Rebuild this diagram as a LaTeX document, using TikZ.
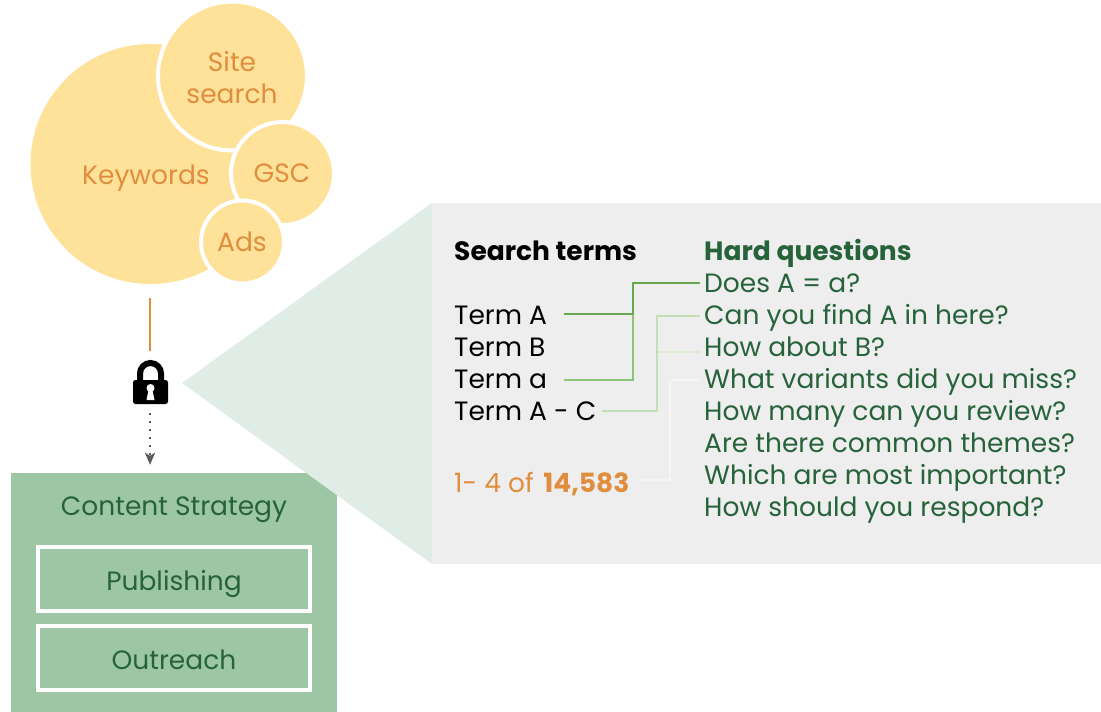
\documentclass[tikz,border=0pt]{standalone}
\usepackage{fontspec}
\setmainfont{Poppins}
\usetikzlibrary{arrows.meta}
\definecolor{bubblefill}{HTML}{FFE299}
\definecolor{bubbletext}{HTML}{E08E3E}
\definecolor{darkgreen}{HTML}{27633A}
\definecolor{boxgreen}{HTML}{9DC6A5}
\definecolor{wedgegreen}{HTML}{E0EDE6}
\definecolor{panelgrey}{HTML}{EEEEEE}
\definecolor{linkone}{HTML}{6AA84F}
\definecolor{linktwo}{HTML}{8CC47A}
\definecolor{linkthree}{HTML}{C2DFB5}
\definecolor{linkfour}{HTML}{DCEBD6}
\definecolor{linkfive}{HTML}{F5F5F5}
\tikzset{
    bubble/.style={circle,fill=bubblefill,draw=white,line width=4pt,inner sep=0pt},
    bubblelabel/.style={inner sep=0pt,text=bubbletext,font=\fontsize{26.5}{32}\selectfont,align=center},
    termtext/.style={inner sep=0pt,anchor=base west,font=\fontsize{26.5}{32}\selectfont},
    asktext/.style={termtext,text=darkgreen},
    stratbox/.style={rectangle,draw=white,line width=4pt,minimum width=272.6pt,minimum height=64pt,
        text=darkgreen,text height=23.4pt,text depth=0pt,inner sep=0pt,font=\fontsize{26.5}{32}\selectfont},
    linkline/.style={line width=2pt}
}
\begin{document}
\begin{tikzpicture}[x=1pt,y=-1pt]
    \useasboundingbox (0,0) rectangle (1101,712);
    % bubbles
    \node[bubble,draw=none,minimum size=240pt] (keywords) at (150.5,164) {};
    \node[bubble,minimum size=149pt] (site) at (232.5,76) {};
    \node[bubble,minimum size=103pt] (gsc) at (282.5,173.5) {};
    \node[bubble,minimum size=83pt] (ads) at (242.5,242) {};
    \node[bubblelabel,anchor=base] (keywordslabel) at (146,184) {Keywords};
    \node[bubblelabel] (sitelabel) at (232,78) {Site\\search};
    \node[bubblelabel,anchor=base] (gsclabel) at (282,182.5) {GSC};
    \node[bubblelabel,anchor=base] (adslabel) at (242,251) {Ads};

    % strategy box
    \node[fill=boxgreen,minimum width=326pt,minimum height=239pt,inner sep=0pt] (strategy) at (174,592.5) {};
    \node[inner sep=0pt,anchor=base,text=darkgreen,font=\fontsize{26.5}{32}\selectfont] (strategylabel) at (174,515) {Content Strategy};
    \node[stratbox] (publishing) at (174,579) {Publishing};
    \node[stratbox] (outreach) at (174,658) {Outreach};

    % wedge and panel
    \fill[wedgegreen] (182,383) -- (432,203) -- (432,564) -- cycle;
    \fill[panelgrey] (432,203) rectangle (1101,564);

    % lock
    \node[minimum width=36pt,minimum height=44pt,inner sep=0pt] (lock) at (150,382) {};
    \draw[line width=6pt] (140,381) -- (140,373.5) arc[start angle=180,end angle=360,radius=10.5] -- (161,381);
    \fill[black,rounded corners=2.5pt] (133,380) rectangle (168,404);
    \fill[white] (150.5,388) circle (4);
    \fill[white] (149,388) -- (152,388) -- (154.5,400) -- (146.5,400) -- cycle;

    \draw[bubbletext,line width=2pt] ([yshift=-12pt]keywords.south -| lock.north) -- ([yshift=9pt]lock.north);
    \draw[black!65,line width=2pt,dash pattern=on 2pt off 6pt,-{Stealth[inset=3pt,length=12pt,width=10pt]}]
        ([yshift=-9pt]lock.south) -- ([yshift=8pt]strategy.north -| lock.south);

    % search terms
    \node[termtext,font=\fontsize{26.5}{32}\selectfont\bfseries] (searchterms) at (454,260) {Search terms};
    \node[termtext] (terma) at (454,324) {Term A};
    \node[termtext] (termb) at (454,356) {Term B};
    \node[termtext] (termlow) at (454,388) {Term a};
    \node[termtext] (termac) at (454,420) {Term A - C};
    \node[termtext,text=bubbletext] (count) at (454,492) {1- 4 of\hspace{2.5pt} \textbf{14,583}};

    % questions
    \node[asktext,font=\fontsize{26.5}{32}\selectfont\bfseries] (hard) at (704,260) {Hard questions};
    \node[asktext] (ask1) at (704,292) {Does A = a?};
    \node[asktext] (ask2) at (704,324) {Can you find A in here?};
    \node[asktext] (ask3) at (704,356) {How about B?};
    \node[asktext] (ask4) at (704,388) {What variants did you miss?};
    \node[asktext] (ask5) at (704,420) {How many can you review?};
    \node[asktext] (ask6) at (704,452) {Are there common themes?};
    \node[asktext] (ask7) at (704,484) {Which are most important?};
    \node[asktext] (ask8) at (704,516) {How should you respond?};

    % links
    \coordinate (tafrom) at (564,314);
    \coordinate (tlfrom) at (564,380);
    \coordinate (tcfrom) at (602,411);
    \coordinate (cfrom) at (638,480);
    \coordinate (q1) at (700,283);
    \coordinate (q2) at (700,316);
    \coordinate (q3) at (700,352);
    \coordinate (q4) at (700,380);
    \draw[linkline,draw=linkfive] (cfrom) -- (670,480) -- (670,380) -- (q4);
    \draw[linkline,draw=linkfour] (657,352) -- (q3);
    \draw[linkline,draw=linkthree] (tcfrom) -- (657,411) -- (657,316) -- (q2);
    \draw[linkline,draw=linktwo] (tlfrom) -- (633,380) -- (633,314);
    \draw[linkline,draw=linkone] (tafrom) -- (633,314) -- (633,283) -- (q1);
\end{tikzpicture}
\end{document}
